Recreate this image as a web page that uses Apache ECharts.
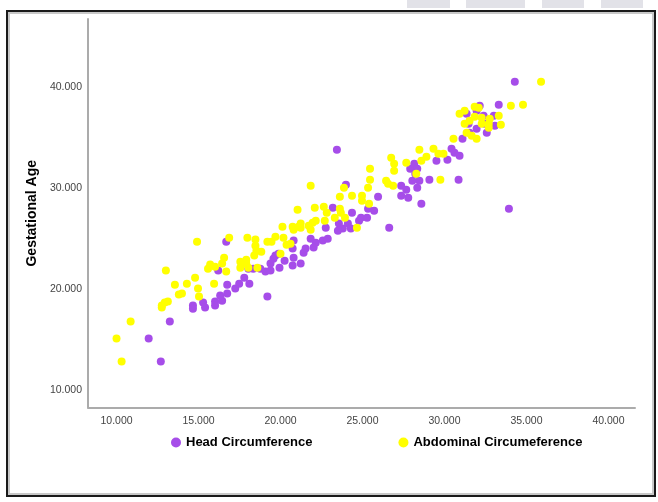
<!DOCTYPE html>
<html>
<head>
<meta charset="utf-8">
<script src="https://cdn.jsdelivr.net/npm/echarts@6/dist/echarts.min.js"></script>
<style>
  html, body { margin: 0; padding: 0; background: #fff; }
  #chart { width: 658px; height: 502px; }
</style>
</head>
<body>
<div id="chart"></div>
<script>
// values: [circumference, gestational age]
const headCircumference = [
  [11.96, 15.13], [12.70, 12.86], [13.25, 16.81], [14.66, 18.39], [14.66, 18.09],
  [15.28, 18.69], [15.40, 18.19], [16.01, 18.79], [16.01, 18.39], [16.44, 18.88],
  [16.32, 19.38], [16.75, 19.58], [16.20, 21.85], [16.75, 20.46], [17.24, 20.07],
  [17.48, 20.56], [17.79, 21.15], [18.10, 20.56], [16.69, 24.71], [19.20, 19.28],
  [18.04, 22.04], [18.34, 22.04], [18.77, 22.04], [19.08, 21.75], [19.39, 21.85],
  [19.39, 22.54], [19.57, 23.03], [19.69, 23.33], [19.88, 23.52], [19.94, 22.14],
  [20.25, 22.83], [20.74, 22.34], [20.80, 23.13], [21.23, 22.54], [20.74, 24.02],
  [21.41, 23.62], [20.80, 24.81], [21.53, 24.02], [21.84, 25.00], [22.15, 24.61],
  [22.58, 24.81], [22.88, 25.00], [22.02, 24.12], [22.76, 26.09], [23.19, 28.07],
  [23.56, 26.49], [23.80, 26.00], [23.50, 25.79], [24.11, 26.49], [24.29, 26.00],
  [23.44, 33.79], [23.99, 30.34], [24.36, 27.57], [24.79, 26.78], [24.91, 27.08],
  [25.28, 27.08], [25.71, 27.77], [25.34, 27.97], [25.95, 29.15], [26.63, 26.09],
  [27.36, 30.24], [27.67, 29.84], [28.34, 30.04], [27.36, 29.25], [27.79, 29.05],
  [28.59, 28.46], [29.08, 30.83], [28.47, 30.73], [28.04, 30.73], [27.91, 31.92],
  [28.16, 32.41], [28.34, 31.92], [28.22, 31.42], [30.86, 30.83], [30.18, 32.80],
  [30.92, 33.20], [29.51, 32.70], [30.43, 33.89], [30.61, 33.49], [31.10, 34.88],
  [34.29, 40.50], [33.31, 38.23], [32.15, 38.13], [31.35, 37.34], [31.96, 37.64],
  [32.39, 37.15], [33.01, 37.15], [32.45, 36.36], [33.07, 36.16], [32.58, 35.47],
  [31.96, 35.86], [31.53, 35.47], [31.47, 36.36], [33.93, 27.97]
]

const abdominalCircumference = [
  [10.00, 15.13], [10.31, 12.86], [10.86, 16.81], [13.01, 21.85], [12.76, 18.39],
  [12.94, 18.69], [13.13, 18.79], [12.76, 18.19], [13.56, 20.46], [13.80, 19.48],
  [13.99, 19.58], [14.29, 20.56], [14.79, 21.15], [14.97, 20.07], [15.03, 19.28],
  [15.58, 22.04], [15.71, 22.44], [16.01, 22.24], [16.44, 22.54], [16.56, 23.13],
  [16.69, 21.75], [15.95, 20.56], [14.91, 24.71], [16.87, 25.10], [17.98, 25.10],
  [18.47, 24.91], [18.47, 24.31], [18.53, 23.82], [18.40, 23.33], [18.83, 23.72],
  [19.20, 24.71], [19.45, 24.71], [19.69, 25.20], [20.12, 26.19], [20.18, 25.10],
  [20.37, 24.41], [20.61, 24.51], [20.74, 26.19], [21.10, 26.19], [21.23, 26.49],
  [21.04, 27.87], [20.00, 23.52], [17.55, 22.73], [17.91, 22.93], [17.91, 22.54],
  [17.55, 22.14], [18.04, 22.14], [18.59, 22.14], [26.75, 33.00], [26.93, 32.41],
  [27.67, 32.51], [26.93, 31.72], [25.46, 31.92], [25.46, 30.83], [25.34, 30.04],
  [24.97, 29.25], [24.97, 28.76], [25.40, 28.46], [26.44, 30.73], [26.56, 30.43],
  [26.87, 30.24], [21.84, 30.24], [23.87, 30.04], [23.62, 29.15], [24.36, 29.25],
  [22.09, 28.07], [22.64, 28.16], [22.82, 27.57], [23.62, 27.97], [23.68, 27.57],
  [23.31, 27.08], [22.70, 26.78], [23.93, 27.08], [24.66, 26.09], [21.23, 26.09],
  [21.72, 26.29], [21.96, 26.58], [22.15, 26.78], [21.84, 25.89], [20.80, 25.89],
  [28.47, 33.79], [29.33, 33.89], [29.63, 33.40], [29.94, 33.40], [28.90, 33.10],
  [28.59, 32.70], [28.28, 31.42], [29.75, 30.83], [35.89, 40.50], [34.05, 38.13],
  [34.79, 38.23], [30.92, 37.34], [31.84, 38.03], [32.09, 37.93], [31.84, 37.05],
  [32.27, 36.95], [32.76, 36.85], [33.31, 37.15], [33.44, 36.26], [31.23, 36.36],
  [31.53, 36.65], [32.27, 36.36], [32.70, 36.36], [31.35, 35.47], [31.66, 35.17],
  [31.96, 34.88], [32.70, 35.96], [30.55, 34.88], [31.23, 37.64]
]

const xTicks = [10, 15, 20, 25, 30, 35, 40]
const yTicks = [10, 20, 30, 40]

const seriesNames = ['Head Circumference', 'Abdominal Circumeference']
const seriesColors = ['#a64de9', '#ffff00']

const chart = echarts.init(document.getElementById('chart'), null, { renderer: 'canvas' })

const labelStyle = {
  color: '#444',
  fontSize: 10.5,
  fontFamily: 'Liberation Sans, Arial, sans-serif',
  formatter: (v) => Number(v).toFixed(3),
}
const lineStyle = { color: '#ababab', width: 2 }

// light screenshot artifacts above the frame
const topBlocks = [[407, 43], [466, 59], [542, 42], [601, 42]].map(([x, w]) => ({
  type: 'rect',
  shape: { x: x, y: 0, width: w, height: 8 },
  style: { fill: '#e2e2e8' },
  silent: true,
}))

chart.setOption({
  animation: false,
  backgroundColor: '#fff',
  grid: { left: 88, right: 23, top: 19, bottom: 94.5, containLabel: false },
  xAxis: {
    type: 'value',
    min: 8.26,
    max: 41.62,
    splitLine: { show: false },
    axisTick: { show: false },
    axisLine: { show: true, onZero: false, lineStyle: lineStyle },
    axisLabel: { ...labelStyle, margin: 8, customValues: xTicks },
  },
  yAxis: {
    type: 'value',
    min: 8.32,
    max: 46.71,
    name: 'Gestational Age',
    nameLocation: 'middle',
    nameGap: 47,
    nameTextStyle: {
      color: '#000',
      fontSize: 14,
      fontWeight: 'bold',
      fontFamily: 'Liberation Sans, Arial, sans-serif',
    },
    splitLine: { show: false },
    axisTick: { show: false },
    axisLine: { show: true, onZero: false, lineStyle: lineStyle },
    axisLabel: { ...labelStyle, margin: 6, customValues: yTicks },
  },
  legend: {
    data: seriesNames,
    left: 166,
    top: 431,
    icon: 'circle',
    itemWidth: 10,
    itemHeight: 10,
    itemGap: 86,
    textStyle: {
      color: '#000',
      fontSize: 13,
      fontWeight: 'bold',
      fontFamily: 'Liberation Sans, Arial, sans-serif',
    },
  },
  series: [
    {
      name: seriesNames[0],
      type: 'scatter',
      symbolSize: 8,
      itemStyle: { color: seriesColors[0], opacity: 1 },
      data: headCircumference,
    },
    {
      name: seriesNames[1],
      type: 'scatter',
      symbolSize: 8,
      itemStyle: { color: seriesColors[1], opacity: 1 },
      data: abdominalCircumference,
    },
  ],
  graphic: [
    ...topBlocks,
    {
      type: 'rect',
      shape: { x: 9, y: 13, width: 644, height: 481 },
      style: { fill: 'none', stroke: '#c8c8c8', lineWidth: 2 },
      silent: true,
    },
    {
      type: 'rect',
      shape: { x: 7, y: 11, width: 648, height: 485 },
      style: { fill: 'none', stroke: '#1a1a1a', lineWidth: 2 },
      silent: true,
    },
  ],
})
</script>
</body>
</html>
